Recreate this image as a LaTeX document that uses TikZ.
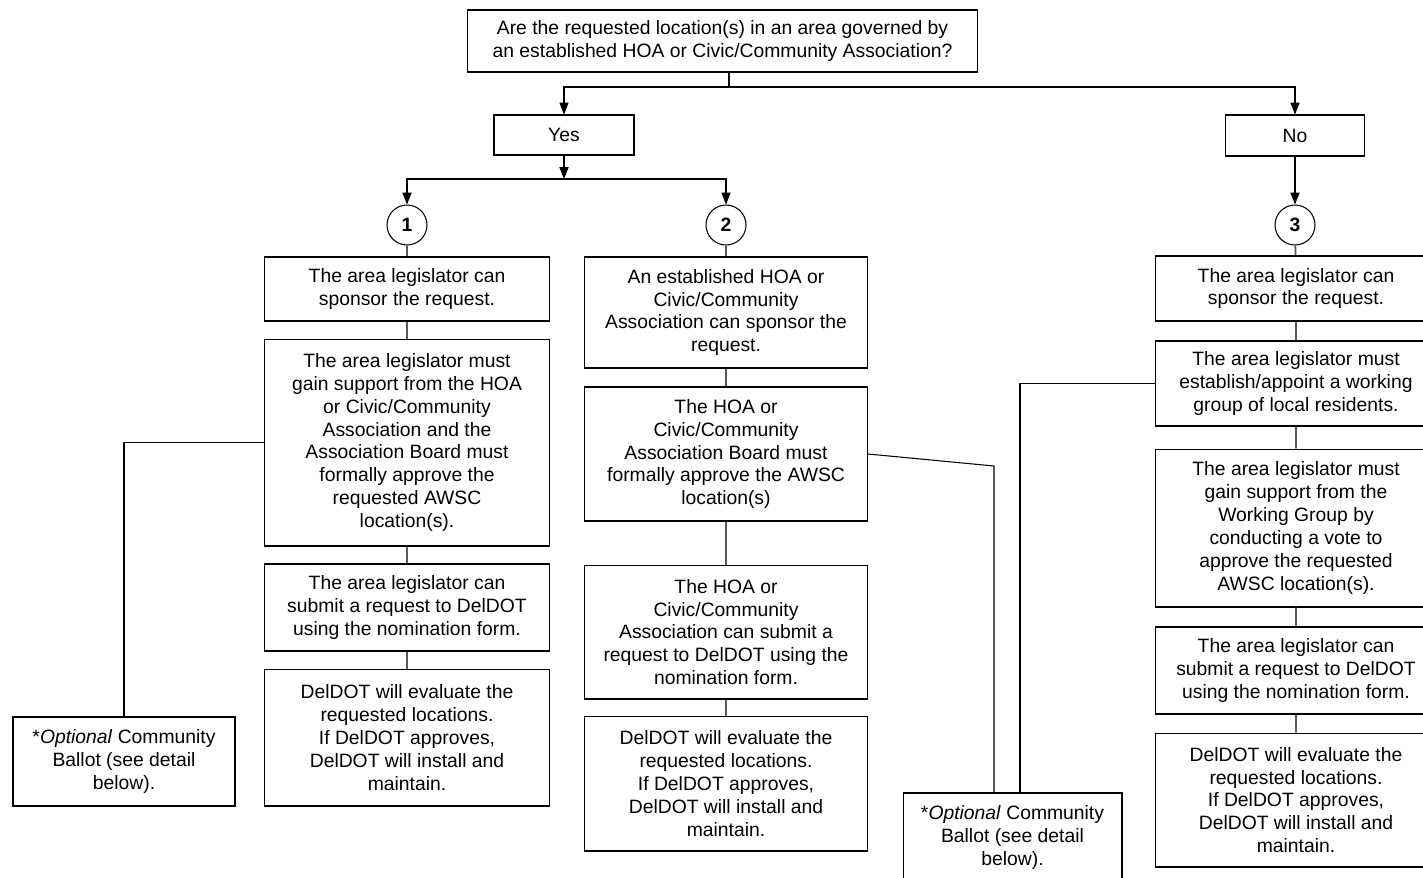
\documentclass[tikz,border=0pt]{standalone}
\usepackage{fontspec}
\setmainfont{Liberation Sans}
\usetikzlibrary{arrows.meta}

\begin{document}
\begin{tikzpicture}[
    x=0.02cm, y=-0.02cm,
    box/.style={rectangle, draw, line width=0.6pt, align=center, inner sep=2pt, font=\fontsize{11}{13}\selectfont},
    colA/.style={box, minimum width=5.7cm},
    colB/.style={box, minimum width=5.66cm},
    colC/.style={box, minimum width=5.64cm},
    ballot/.style={box, minimum width=4.4cm, minimum height=1.78cm},
    num/.style={circle, draw, line width=0.6pt, minimum size=0.8cm, inner sep=0pt, font=\bfseries\fontsize{11}{12}\selectfont},
    arrow/.style={-{Triangle[length=6.8pt, width=5.2pt]}, line width=0.6pt},
    link/.style={line width=0.6pt, draw=black},
    stem/.style={line width=1pt, draw=black!65}
]
    \useasboundingbox (0,0) rectangle (1423,877);
    \clip (0,0) rectangle (1423,877);

    % Question
    \node[box, minimum width=10.22cm, minimum height=1.24cm] (question) at (722.5, 41) {Are the requested location(s) in an area governed by\\an established HOA or Civic/Community Association?};

    % Answers
    \node[box, minimum width=2.8cm, minimum height=0.8cm] (yes) at (564, 135) {Yes};
    \node[box, minimum width=2.78cm, minimum height=0.82cm] (no) at (1295, 135.5) {No};

    \coordinate (qsplit) at (729, 87);
    \draw[link] (question.south -| qsplit) -- (qsplit);
    \draw[arrow] (qsplit) -| (yes);
    \draw[arrow] (qsplit) -| (no);

    % Options
    \node[num] (opt1) at (407, 225) {1};
    \node[num] (opt2) at (726, 225) {2};
    \node[num] (opt3) at (1295, 225) {3};

    \coordinate (ysplit) at (564, 179);
    \draw[arrow] (yes) -- (ysplit);
    \draw[arrow] (ysplit) -| (opt1);
    \draw[arrow] (ysplit) -| (opt2);
    \draw[arrow] (no) -- (opt3);

    % Option 1
    \node[colA, minimum height=1.28cm] (a1) at (407, 289) {The area legislator can\\sponsor the request.};
    \node[colA, minimum height=4.14cm] (a2) at (407, 442.5) {The area legislator must\\gain support from the HOA\\or Civic/Community\\Association and the\\Association Board must\\formally approve the\\requested AWSC\\location(s).};
    \node[colA, minimum height=1.74cm] (a3) at (407, 607.5) {The area legislator can\\submit a request to DelDOT\\using the nomination form.};
    \node[colA, minimum height=2.74cm] (a4) at (407, 737.5) {DelDOT will evaluate the\\requested locations.\\If DelDOT approves,\\DelDOT will install and\\maintain.};
    \node[ballot, minimum width=4.44cm] (ballotA) at (124, 761.5) {*\textit{Optional} Community\\Ballot (see detail\\below).};

    \draw[stem] (opt1) -- (a1) -- (a2) -- (a3) -- (a4);
    \draw[link] (a2.west) -| (ballotA);

    % Option 2
    \node[colB, minimum height=2.22cm] (b1) at (726, 312.5) {An established HOA or\\Civic/Community\\Association can sponsor the\\request.};
    \node[colB, minimum height=2.68cm] (b2) at (726, 454) {The HOA or\\Civic/Community\\Association Board must\\formally approve the AWSC\\location(s)};
    \node[colB, minimum height=2.68cm] (b3) at (726, 632) {The HOA or\\Civic/Community\\Association can submit a\\request to DelDOT using the\\nomination form.};
    \node[colB, minimum height=2.7cm] (b4) at (726, 783.5) {DelDOT will evaluate the\\requested locations.\\If DelDOT approves,\\DelDOT will install and\\maintain.};

    \draw[stem] (opt2) -- (b1) -- (b2) -- (b3) -- (b4);

    % Option 3
    \node[colC, minimum height=1.3cm] (c1) at (1296, 288.5) {The area legislator can\\sponsor the request.};
    \node[colC, minimum height=1.7cm] (c2) at (1296, 383.5) {The area legislator must\\establish/appoint a working\\group of local residents.};
    \node[colC, minimum height=3.16cm] (c3) at (1296, 528) {The area legislator must\\gain support from the\\Working Group by\\conducting a vote to\\approve the requested\\AWSC location(s).};
    \node[colC, minimum height=1.74cm] (c4) at (1296, 670.5) {The area legislator can\\submit a request to DelDOT\\using the nomination form.};
    \node[colC, minimum height=2.68cm] (c5) at (1296, 800) {DelDOT will evaluate the\\requested locations.\\If DelDOT approves,\\DelDOT will install and\\maintain.};

    \draw[stem] (opt3) -- (c1) -- (c2) -- (c3) -- (c4) -- (c5);

    % Shared ballot
    \node[ballot, minimum width=4.38cm] (ballotB) at (1012.5, 837.5) {*\textit{Optional} Community\\Ballot (see detail\\below).};

    \coordinate (bendB) at (994, 466);
    \coordinate (bendC) at (1020, 383.5);
    \draw[link] (b2.east) -- (bendB) -- (bendB |- ballotB.north);
    \draw[link] (c2.west) -- (bendC) -- (bendC |- ballotB.north);
\end{tikzpicture}
\end{document}
